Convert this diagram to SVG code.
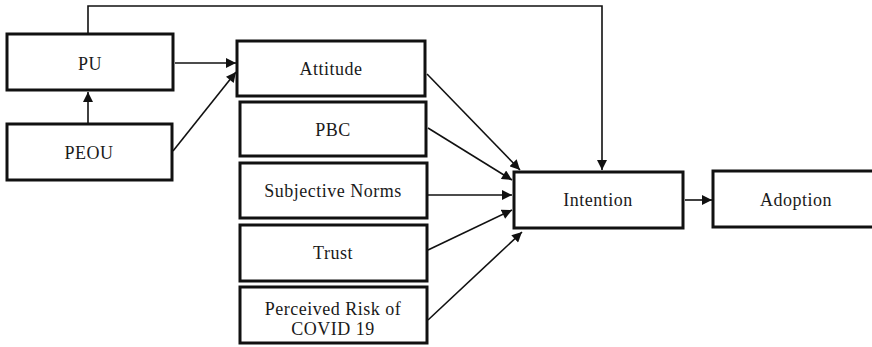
<svg xmlns="http://www.w3.org/2000/svg" width="872" height="347" viewBox="0 0 872 347">
<style>
.box{fill:#fff;stroke:#111;stroke-width:3}
.lbl{font-family:'Liberation Serif','Times New Roman',serif;font-size:18px;fill:#1a1a1a;text-anchor:middle;letter-spacing:0.5px}
.ln{fill:none;stroke:#111;stroke-width:1.6}
</style>
<defs>
<marker id="ah" viewBox="0 0 10 10" refX="10" refY="5" markerWidth="11" markerHeight="10" markerUnits="userSpaceOnUse" orient="auto">
<path d="M0,0 L10,5 L0,10 Z" fill="#111"/>
</marker>
</defs>
<rect width="872" height="347" fill="#fff"/>
<g id="connectors">
<path class="ln" d="M88,34 V6 H602 V170" marker-end="url(#ah)"/>
<path class="ln" d="M88,124 V92" marker-end="url(#ah)"/>
<path class="ln" d="M175,63 L236,63" marker-end="url(#ah)"/>
<path class="ln" d="M173,151 L236,72" marker-end="url(#ah)"/>
<path class="ln" d="M427,74 L520,170" marker-end="url(#ah)"/>
<path class="ln" d="M428,128 L512,180" marker-end="url(#ah)"/>
<path class="ln" d="M428,195 L512,195" marker-end="url(#ah)"/>
<path class="ln" d="M428,250 L512,210" marker-end="url(#ah)"/>
<path class="ln" d="M428,320 L522,232" marker-end="url(#ah)"/>
<path class="ln" d="M685,200 L712,200" marker-end="url(#ah)"/>
</g>
<g id="PU"><rect class="box" x="7" y="34" width="166" height="56"/><text class="lbl" x="90" y="70">PU</text></g>
<g id="PEOU"><rect class="box" x="7" y="124" width="165" height="56"/><text class="lbl" x="89" y="159">PEOU</text></g>
<g id="Attitude"><rect class="box" x="237" y="41" width="188" height="55"/><text class="lbl" x="331" y="75">Attitude</text></g>
<g id="PBC"><rect class="box" x="240" y="102" width="186" height="54"/><text class="lbl" x="333" y="136">PBC</text></g>
<g id="SubjectiveNorms"><rect class="box" x="240" y="163" width="187" height="55"/><text class="lbl" x="333" y="197">Subjective Norms</text></g>
<g id="Trust"><rect class="box" x="240" y="225" width="187" height="56"/><text class="lbl" x="333" y="259">Trust</text></g>
<g id="PerceivedRisk"><rect class="box" x="240" y="287" width="187" height="56"/><text class="lbl" x="333" y="315">Perceived Risk of</text><text class="lbl" x="333" y="335">COVID 19</text></g>
<g id="Intention"><rect class="box" x="514" y="172" width="169" height="56"/><text class="lbl" x="598" y="206">Intention</text></g>
<g id="Adoption"><rect class="box" x="713" y="171" width="165" height="56"/><text class="lbl" x="796" y="206">Adoption</text></g>
</svg>
